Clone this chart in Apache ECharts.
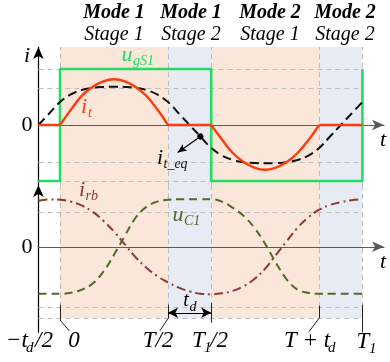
<!DOCTYPE html>
<html>
<head>
<meta charset="utf-8">
<script src="https://cdn.jsdelivr.net/npm/echarts@6/dist/echarts.min.js"></script>
<style>
  html, body { margin: 0; padding: 0; background: #fff; }
  #chart { width: 390px; height: 362px; }
</style>
</head>
<body>
<div id="chart"></div>
<script>
// Time is measured in units of T/2: T = 2, dead time td = 0.4, T1 = T + 2td = 2.8
const tSamples = [-0.2, -0.1, 0, 0.1, 0.2, 0.3, 0.4, 0.5, 0.6, 0.7, 0.8, 0.9, 1.0, 1.1, 1.2, 1.3, 1.4,
  1.5, 1.6, 1.7, 1.8, 1.9, 2.0, 2.1, 2.2, 2.3, 2.4, 2.5, 2.6, 2.7, 2.8];

// equivalent tank current i_t_eq (upper panel, normalised to the gate level)
const itEq = [0, 0.205, 0.41, 0.545, 0.625, 0.665, 0.68, 0.684, 0.68, 0.665, 0.625, 0.545, 0.41, 0.205, 0,
  -0.205, -0.41, -0.545, -0.625, -0.665, -0.68, -0.684, -0.68, -0.665, -0.625, -0.545, -0.41, -0.205, 0, 0.205, 0.41];

// resonant branch current i_rb and capacitor voltage u_C1 (lower panel)
const irb = [0.97, 0.995, 0.99, 0.95, 0.87, 0.74, 0.55, 0.32, 0.05, -0.22, -0.44, -0.62, -0.75, -0.86, -0.94,
  -0.99, -1.0, -0.98, -0.93, -0.83, -0.68, -0.46, -0.17, 0.12, 0.40, 0.62, 0.78, 0.88, 0.94, 0.98, 1.0];
const uC1 = [-0.99, -0.99, -0.99, -0.97, -0.905, -0.78, -0.53, -0.17, 0.23, 0.61, 0.84, 0.95, 0.99, 1.0, 1.0,
  1.0, 1.0, 0.95, 0.82, 0.65, 0.4, 0.06, -0.34, -0.69, -0.905, -0.97, -0.99, -0.99, -0.99, -0.99, -0.99];

// tank current i_t: two half-wave pulses and the idle intervals between them
const itPulse1T = [0, 0.1, 0.2, 0.3, 0.4, 0.5, 0.6, 0.7, 0.8, 0.9, 1.0];
const itPulse1 = [0, 0.27, 0.52, 0.68, 0.78, 0.816, 0.78, 0.68, 0.52, 0.28, 0];
const itPulse2T = [1.4, 1.5, 1.6, 1.7, 1.8, 1.9, 2.0, 2.1, 2.2, 2.3, 2.4];
const itPulse2 = [0, -0.26, -0.5, -0.66, -0.76, -0.8, -0.76, -0.66, -0.5, -0.27, 0];
const itIdleSpans = [[-0.2, 0], [1.0, 1.4], [2.4, 2.8]];

// gate signal u_gS1
const gateT = [-0.2, 0, 0, 1.4, 1.4, 2.8, 2.8];
const gateV = [-1, -1, 1, 1, -1, -1, 1];

// stage boundaries and the kind of each stage
const stageEdges = [0, 1.0, 1.4, 2.4, 2.8];
const stageKinds = ['active', 'dead', 'active', 'dead'];
const stageModes = ['Mode 1', 'Mode 1', 'Mode 2', 'Mode 2'];
const stageNames = ['Stage 1', 'Stage 2', 'Stage 1', 'Stage 2'];

// guide levels
const upperGuides = [1, 0.66, -0.66, -1];
const lowerGuides = [0.73, -1.28, -1.5];

// marker on i_t_eq and the dead-time span
const eqMarker = [1.3, -0.205];
const eqPointer = [1.09, -0.49];
const deadSpan = [1.0, 1.4];
const deadLevel = -1.39;

const C = {
  active: '#fbe7d9', dead: '#e7ebf3', guide: '#bdbdbd',
  gate: '#22dc64', it: '#ff3b0c', eq: '#111111', irb: '#8e3a30', uc: '#4e6a2a'
};
const SERIF = '"Liberation Serif", "Times New Roman", serif';

const zip = (xs, ys) => xs.map((x, i) => [x, ys[i]]);
const tMin = tSamples[0], tMax = tSamples[tSamples.length - 1];

function bands(yTop, yBottom) {
  return stageKinds.map((k, i) => {
    const a = { xAxis: stageEdges[i], itemStyle: { color: C[k] } };
    const b = { xAxis: stageEdges[i + 1] };
    if (yTop !== undefined) { a.yAxis = yTop; b.yAxis = yBottom; }
    return [a, b];
  });
}
function hGuides(levels) {
  return levels.map(v => [{ coord: [tMin, v] }, { coord: [tMax, v] }]);
}
function vGuides(yTop, yBottom) {
  return stageEdges.map(t => yTop === undefined ? { xAxis: t } : [{ coord: [t, yTop] }, { coord: [t, yBottom] }]);
}

// idle intervals of i_t as one broken polyline
const itIdle = [];
itIdleSpans.forEach((s, i) => {
  if (i) itIdle.push([(s[0] + itIdleSpans[i - 1][1]) / 2, '-']);
  itIdle.push([s[0], 0], [s[1], 0]);
});

// time ticks under the lower panel: [t, top, bottom, leader end t, leader end v]
const tickMarks = [
  [0, -1.22, -1.54, 0.085, -1.77],
  [1.0, -1.22, -1.51, 0.925, -1.77],
  [1.4, -1.18, -1.6, null, null],
  [2.4, -1.24, -1.5, 2.305, -1.79],
  [2.8, -1.22, -1.8, null, null]
];
const solid = { type: 'solid', color: '#222', width: 1 };
const tickLines = [];
tickMarks.forEach(m => {
  tickLines.push([{ coord: [m[0], m[1]], lineStyle: solid }, { coord: [m[0], m[2]] }]);
  if (m[3] !== null) tickLines.push([{ coord: [m[0], m[2]], lineStyle: solid }, { coord: [m[3], m[4]] }]);
});

function text(x, y, s, font, fill, align) {
  return { type: 'text', x: x, y: y, z: 20,
    style: { text: s, font: font, fill: fill || '#000', align: align || 'center', verticalAlign: 'middle' } };
}
const it22 = 'italic 22px ' + SERIF, sub14 = 'italic 14px ' + SERIF;
const tickFont = 'italic 23px ' + SERIF, tickSub = 'italic 15px ' + SERIF;
const TY = 341, SY = 348;

const headerCenters = [114, 191, 270, 345];
const graphics = [];
stageModes.forEach((m, i) => {
  graphics.push(text(headerCenters[i], 13, m, 'italic bold 20px ' + SERIF));
  graphics.push(text(headerCenters[i], 35, stageNames[i], 'italic 20px ' + SERIF));
});
graphics.push(
  text(27, 56, 'i', it22), text(383, 140, 't', it22), text(383, 262, 't', it22),
  text(127, 55, 'u', it22, C.gate), text(133, 61, 'gS1', sub14, C.gate, 'left'),
  text(84, 107, 'i', it22, C.it), text(88, 113, 't', sub14, C.it, 'left'),
  text(160, 158, 'i', it22, C.eq), text(163.5, 164, 't_eq', sub14, C.eq, 'left'),
  text(82, 190, 'i', it22, C.irb), text(85.5, 196, 'rb', sub14, C.irb, 'left'),
  text(178, 215, 'u', it22, C.uc), text(184, 221, 'C1', sub14, C.uc, 'left'),
  text(186, 301, 't', 'italic 20px ' + SERIF), text(189.5, 307, 'd', sub14, '#000', 'left'),
  // time labels
  text(6, TY, '−t', tickFont, '#000', 'left'), text(26, SY, 'd', tickSub, '#000', 'left'),
  text(35, TY, '/2', tickFont, '#000', 'left'),
  text(74, TY, '0', tickFont),
  text(158, TY, 'T/2', tickFont),
  text(192, TY, 'T', tickFont, '#000', 'left'), text(204, SY, '1', tickSub, '#000', 'left'),
  text(210, TY, '/2', tickFont, '#000', 'left'),
  text(307, TY, 'T + t', tickFont), text(328, SY, 'd', tickSub, '#000', 'left'),
  text(363, TY + 1, 'T', tickFont), text(369, SY + 1, '1', tickSub, '#000', 'left')
);

const axisCommon = {
  type: 'value', axisTick: { show: false }, splitLine: { show: false }
};
const arrowLine = (color, onZero) => ({
  show: true, onZero: onZero, symbol: ['none', 'arrow'], symbolSize: [8, 12],
  lineStyle: { color: color, width: 1.2 }
});
const zeroLabel = {
  show: true, customValues: [0], formatter: () => '0', margin: 6,
  fontFamily: SERIF, fontSize: 22, color: '#000'
};

const chart = echarts.init(document.getElementById('chart'), null, { renderer: 'canvas' });
chart.setOption({
  animation: false,
  backgroundColor: '#fff',
  grid: [
    { left: 38.4, width: 345.6, top: 47, height: 138 },
    { left: 38.4, width: 345.6, top: 185, height: 147.25 }
  ],
  xAxis: [
    Object.assign({}, axisCommon, { gridIndex: 0, min: -0.2, max: 3.0, z: 3,
      axisLine: arrowLine('#5a5a5a', true), axisLabel: { show: false } }),
    Object.assign({}, axisCommon, { gridIndex: 1, min: -0.2, max: 3.0, z: 3,
      axisLine: arrowLine('#5a5a5a', true), axisLabel: { show: false } })
  ],
  yAxis: [
    Object.assign({}, axisCommon, { gridIndex: 0, min: -1.0714, max: 1.3929, z: 3,
      axisLine: arrowLine('#000', false), axisLabel: zeroLabel }),
    Object.assign({}, axisCommon, { gridIndex: 1, min: -1.8, max: 1.3, z: 3,
      axisLine: arrowLine('#000', false), axisLabel: zeroLabel })
  ],
  graphic: graphics,
  series: [
    { // stage shading and guides, upper panel
      type: 'line', xAxisIndex: 0, yAxisIndex: 0, data: [], z: 1, silent: true,
      markArea: { silent: true, data: bands() },
      markLine: { silent: true, symbol: 'none', label: { show: false },
        lineStyle: { type: [5, 4], color: C.guide, width: 1 },
        data: hGuides(upperGuides).concat(vGuides()) }
    },
    { // stage shading, guides and time ticks, lower panel
      type: 'line', xAxisIndex: 1, yAxisIndex: 1, data: [], z: 1, silent: true,
      markArea: { silent: true, data: bands(1.3, -1.5) },
      markLine: { silent: true, symbol: 'none', label: { show: false },
        lineStyle: { type: [5, 4], color: C.guide, width: 1 },
        data: hGuides(lowerGuides).concat(vGuides(1.3, -1.5)).concat(tickLines) }
    },
    { // dead-time span arrow
      type: 'line', xAxisIndex: 1, yAxisIndex: 1, data: [], z: 6, silent: true,
      markLine: { silent: true, symbol: ['arrow', 'arrow'], symbolSize: [8, 10], label: { show: false },
        lineStyle: { type: 'solid', color: '#000', width: 1.2 },
        data: [[{ coord: [deadSpan[0], deadLevel] }, { coord: [deadSpan[1], deadLevel] }]] }
    },
    {
      name: 'u_gS1', type: 'line', xAxisIndex: 0, yAxisIndex: 0, z: 5, symbol: 'none',
      data: zip(gateT, gateV), lineStyle: { color: C.gate, width: 2.6 }
    },
    {
      name: 'i_t_eq', type: 'line', xAxisIndex: 0, yAxisIndex: 0, z: 6, symbol: 'none', smooth: 0.4,
      data: zip(tSamples, itEq), lineStyle: { color: C.eq, width: 2, type: [9, 5] },
      markLine: { silent: true, symbol: ['circle', 'arrow'], symbolSize: [6, 9], label: { show: false },
        lineStyle: { type: 'solid', color: '#000', width: 1.1 },
        data: [[{ coord: eqMarker }, { coord: eqPointer }]] }
    },
    {
      name: 'i_t', type: 'line', xAxisIndex: 0, yAxisIndex: 0, z: 7, symbol: 'none',
      data: itIdle, lineStyle: { color: C.it, width: 2.4 }
    },
    {
      name: 'i_t', type: 'line', xAxisIndex: 0, yAxisIndex: 0, z: 7, symbol: 'none', smooth: 0.4,
      data: zip(itPulse1T, itPulse1), lineStyle: { color: C.it, width: 2.4 }
    },
    {
      name: 'i_t', type: 'line', xAxisIndex: 0, yAxisIndex: 0, z: 7, symbol: 'none', smooth: 0.4,
      data: zip(itPulse2T, itPulse2), lineStyle: { color: C.it, width: 2.4 }
    },
    {
      name: 'i_rb', type: 'line', xAxisIndex: 1, yAxisIndex: 1, z: 6, symbol: 'none', smooth: 0.4,
      data: zip(tSamples, irb), lineStyle: { color: C.irb, width: 2, type: [9, 4, 2, 4] }
    },
    {
      name: 'u_C1', type: 'line', xAxisIndex: 1, yAxisIndex: 1, z: 6, symbol: 'none', smooth: 0.4,
      data: zip(tSamples, uC1), lineStyle: { color: C.uc, width: 2, type: [8, 5] }
    }
  ]
});
</script>
</body>
</html>
